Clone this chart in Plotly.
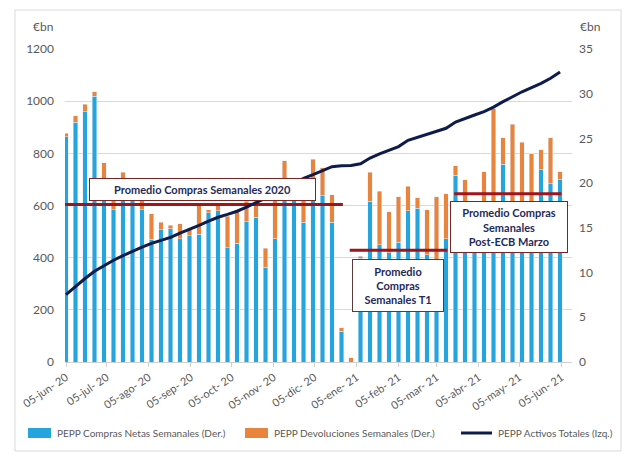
import pandas as pd
import plotly.graph_objects as go

# ---- data ----
start_date = "2020-06-05"
n_weeks = 53
week_dates = pd.date_range(start_date, periods=n_weeks, freq="7D")

compras_netas = [25.2, 26.8, 28.0, 29.7, 18.5, 17.0, 19.0, 18.5, 17.0, 13.7,
                 14.8, 14.9, 13.8, 14.1, 14.3, 16.7, 16.9, 12.8, 13.3, 15.7,
                 16.2, 10.6, 13.8, 19.5, 19.5, 15.6, 19.0, 18.6, 15.6, 3.46,
                 0.0, 11.6, 18.0, 13.1, 12.2, 13.4, 16.9, 17.2, 12.0, 10.5,
                 13.8, 20.9, 17.0, 17.5, 17.5, 18.0, 22.1, 17.5, 18.0, 18.0,
                 21.5, 19.95, 20.4]
devoluciones = [0.4, 0.75, 0.8, 0.5, 3.8, 2.5, 2.2, 1.0, 1.5, 2.9,
                0.8, 0.4, 1.65, 0.7, 3.2, 0.3, 0.7, 3.5, 3.7, 2.3,
                1.8, 2.1, 5.7, 3.0, 0.5, 3.4, 3.7, 3.1, 3.1, 0.37,
                0.45, 0.2, 3.2, 6.0, 4.6, 5.1, 2.76, 1.15, 5.05, 8.0,
                5.0, 1.07, 3.4, 0.5, 3.8, 10.3, 2.96, 9.1, 6.6, 5.3,
                2.25, 5.1, 0.9]
activos_totales = [258, 290, 320, 348, 370, 390, 408, 425, 440, 455,
                   466, 478, 494, 508, 524, 540, 555, 566, 578, 594,
                   610, 628, 646, 666, 686, 704, 718, 735, 749, 752,
                   753, 760, 782, 798, 813, 826, 850, 862, 875, 886,
                   896, 920, 935, 947, 960, 977, 998, 1018, 1036, 1052,
                   1068, 1088, 1112]

# averages (right axis) and the week ranges they span (index into week_dates)
prom_2020 = 17.6
prom_2020_span = (0, 29)
prom_t1 = 12.5
prom_t1_span = (30, 40)
prom_post = 18.8
prom_post_span = (41, 52)

tick_dates = ["2020-06-05", "2020-07-05", "2020-08-05", "2020-09-05", "2020-10-05",
              "2020-11-05", "2020-12-05", "2021-01-05", "2021-02-05", "2021-03-05",
              "2021-04-05", "2021-05-05", "2021-06-05"]
tick_labels = ["05-jun- 20", "05-jul- 20", "05-ago- 20", "05-sep- 20", "05-oct- 20",
               "05-nov- 20", "05-dic- 20", "05-ene- 21", "05-feb- 21", "05-mar- 21",
               "05-abr- 21", "05-may- 21", "05-jun- 21"]

series_names = ["PEPP Compras Netas Semanales (Der.)",
                "PEPP Devoluciones Semanales (Der.)",
                "PEPP Activos Totales (Izq.)"]

# ---- styling ----
BLUE = "#25A5DD"
ORANGE = "#E8843C"
NAVY = "#0E1C4B"
RED = "#A0151B"
GREY = "#595959"
TXT = "#1F2B5B"
FONT = "Lato"

bar_w = 3.1 * 86400000

fig = go.Figure()
fig.add_trace(go.Bar(x=week_dates, y=compras_netas, name=series_names[0],
                     marker_color=BLUE, width=bar_w, yaxis="y", showlegend=False))
fig.add_trace(go.Bar(x=week_dates, y=devoluciones, name=series_names[1],
                     marker_color=ORANGE, width=bar_w, yaxis="y", showlegend=False))

for val, (a, b) in [(prom_2020, prom_2020_span), (prom_t1, prom_t1_span), (prom_post, prom_post_span)]:
    x0 = week_dates[a] - pd.Timedelta(days=1)
    x1 = week_dates[b] + pd.Timedelta(days=1)
    fig.add_trace(go.Scatter(x=[x0, x1], y=[val, val], mode="lines",
                             line=dict(color=RED, width=3), showlegend=False,
                             hoverinfo="skip", yaxis="y"))

fig.add_trace(go.Scatter(x=week_dates, y=activos_totales, mode="lines",
                         name=series_names[2], showlegend=False,
                         line=dict(color=NAVY, width=3), yaxis="y2"))

# plot area geometry (px)
L, R, T, B = 65, 572, 49, 362
PW, PH = R - L, B - T

def px(x):
    return (x - L) / PW

def py(y):
    return (B - y) / PH

fig.update_layout(
    width=634, height=459,
    margin=dict(l=L, r=634 - R, t=T, b=459 - B),
    paper_bgcolor="white", plot_bgcolor="white",
    barmode="stack",
    font=dict(family=FONT, color=GREY, size=12),
    xaxis=dict(type="date", range=["2020-06-04 06:00", "2021-06-12 19:00"],
               tickvals=tick_dates, ticktext=tick_labels, tickangle=-34,
               tickfont=dict(size=11, color=GREY), automargin=False,
               showline=True, linecolor="#D0D0D0", ticks="outside", ticklen=4,
               tickcolor="#D0D0D0", showgrid=False, zeroline=False),
    yaxis=dict(side="right", range=[0, 35], dtick=5, showgrid=False, zeroline=False,
               tickfont=dict(size=12, color=GREY), ticklabelstandoff=6, automargin=False),
    yaxis2=dict(side="left", overlaying="y", range=[0, 1200], dtick=200,
                showgrid=True, gridcolor="#D9D9D9", gridwidth=1, zeroline=False,
                tickfont=dict(size=12, color=GREY), ticklabelstandoff=10, automargin=False),
    showlegend=False,
)

# outer border
fig.add_shape(type="rect", xref="paper", yref="paper",
              x0=px(15), x1=px(621), y0=py(451), y1=py(10),
              line=dict(color="#D9D9D9", width=1), fillcolor="rgba(0,0,0,0)", layer="below")

# axis unit labels
fig.add_annotation(xref="paper", yref="paper", x=px(43), y=py(27), text="€bn",
                   xanchor="center", yanchor="middle",
                   showarrow=False, font=dict(size=12, color=GREY))
fig.add_annotation(xref="paper", yref="paper", x=px(590), y=py(27), text="€bn",
                   xanchor="center", yanchor="middle",
                   showarrow=False, font=dict(size=12, color=GREY))

# legend (drawn)
LEG_Y = 433
fig.add_shape(type="rect", xref="paper", yref="paper", x0=px(28), x1=px(51),
              y0=py(438), y1=py(428), fillcolor=BLUE, line=dict(width=0))
fig.add_shape(type="rect", xref="paper", yref="paper", x0=px(245), x1=px(268),
              y0=py(438), y1=py(428), fillcolor=ORANGE, line=dict(width=0))
fig.add_shape(type="line", xref="paper", yref="paper", x0=px(461), x1=px(492),
              y0=py(LEG_Y), y1=py(LEG_Y), line=dict(color=NAVY, width=3))
for xpos, name in zip([55, 272, 496], series_names):
    fig.add_annotation(xref="paper", yref="paper", x=px(xpos), y=py(LEG_Y), text=name,
                       xanchor="left", yanchor="middle", showarrow=False,
                       font=dict(size=10, color=GREY))

box_font = dict(family=FONT, size=11, color=TXT)
fig.add_annotation(xref="paper", yref="paper", x=px(202.5), y=py(189.3),
                   xanchor="center", yanchor="middle",
                   text="<b>Promedio Compras Semanales 2020</b>", showarrow=False,
                   font=box_font, bgcolor="white", bordercolor="#7B2424", borderwidth=1,
                   borderpad=1, width=223, height=19)
fig.add_annotation(xref="paper", yref="paper", x=px(397.5), y=py(285),
                   xanchor="center", yanchor="middle",
                   text="<b>Promedio<br>Compras<br>Semanales T1</b>", showarrow=False,
                   font=box_font, bgcolor="white", bordercolor="#5A3A3A", borderwidth=1,
                   borderpad=1, width=88, height=49)
fig.add_annotation(xref="paper", yref="paper", x=px(509.2), y=py(226.7),
                   xanchor="center", yanchor="middle",
                   text="<b>Promedio Compras<br>Semanales<br>Post-ECB Marzo</b>", showarrow=False,
                   font=box_font, bgcolor="white", bordercolor="#7B2424", borderwidth=1,
                   borderpad=1, width=114, height=48)

fig.write_html("out.html")
